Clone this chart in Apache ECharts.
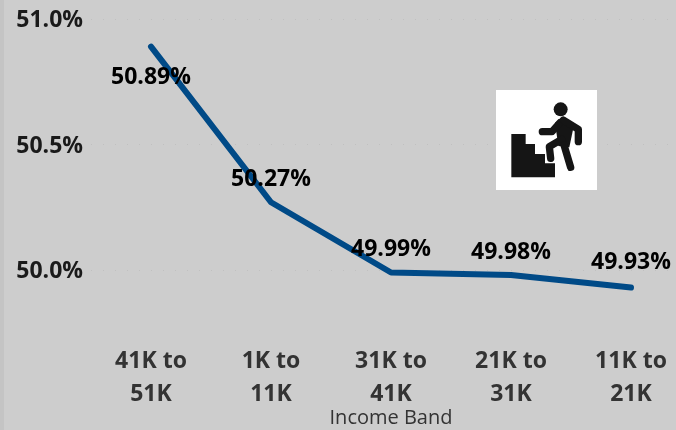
<!DOCTYPE html>
<html><head><meta charset="utf-8">
<style>html,body{margin:0;padding:0;background:#cdcdcd}#c{width:676px;height:430px}</style>
<script src="https://cdn.jsdelivr.net/npm/echarts@6/dist/echarts.min.js"></script>
</head><body><div id="c"></div>
<script>
const categories = ['41K to\n51K','1K to\n11K','31K to\n41K','21K to\n31K','11K to\n21K'];
const values = [50.89,50.27,49.99,49.98,49.93];
const yTicks = [50,50.5,51];
const labelPositions = ['bottom','top','top','top','top'];
const labelDistances = [19,11,11,11,13];
const axisName = 'Income Band';
const font = '"Open Sans","Noto Sans",sans-serif';
const chart = echarts.init(document.getElementById('c'),null,{renderer:'canvas'});
const line = pts => ({type:'polyline',z:12,shape:{points:pts},style:{stroke:'#151515',lineWidth:22,lineCap:'round',lineJoin:'round',fill:null}});
chart.setOption({
  animation:false,
  backgroundColor:'#cdcdcd',
  grid:{left:91,top:19,width:600,height:301.2,outerBoundsMode:'none'},
  xAxis:{type:'category',data:categories,boundaryGap:true,
    axisLine:{show:false},axisTick:{show:false},
    axisLabel:{interval:0,margin:25,color:'#333',fontFamily:font,fontWeight:'bold',fontSize:23,lineHeight:33},
    name:axisName,nameLocation:'middle',nameGap:88,nameMoveOverlap:false,nameTextStyle:{color:'#333',fontFamily:font,fontSize:20}},
  yAxis:{type:'value',min:49.8,max:51,
    axisLine:{show:false},axisTick:{show:false,customValues:yTicks},
    axisLabel:{customValues:yTicks,margin:8,color:'#1a1a1a',fontFamily:font,fontWeight:'bold',fontSize:23,verticalAlign:'top',lineHeight:3,
      formatter:v=>v.toFixed(1)+'%'},
    splitLine:{show:true,lineStyle:{color:'#c0c0c0',type:[1,11],width:1}}},
  series:[{type:'line',symbol:'circle',symbolSize:1,
    itemStyle:{color:'#004a87'},
    lineStyle:{color:'#004a87',width:6,cap:'round',join:'round'},
    label:{show:true,color:'#000',fontFamily:font,fontWeight:'bold',fontSize:23,
      formatter:p=>p.value.toFixed(2)+'%'},
    data:values.map((v,i)=>({value:v,label:{position:labelPositions[i],distance:labelDistances[i]}}))}],
  graphic:[
    {type:'rect',left:0,top:0,z:1,shape:{width:4,height:430},style:{fill:'#c4c4c4'}},
    {type:'rect',left:496,top:90,z:10,shape:{width:101,height:100},style:{fill:'#fff'}},
    {type:'group',x:480,y:70,scaleX:1/3,scaleY:1/3,z:12,children:[
      {type:'polygon',z:12,shape:{points:[[94,192],[137,192],[137,222],[165,222],[165,252],[195,252],[195,280],[225,280],[225,322],[94,322]]},style:{fill:'#151515'}},
      {type:'circle',z:12,shape:{cx:242,cy:118,r:21},style:{fill:'#151515'}},
      {type:'polygon',z:12,shape:{points:[[225,158],[250,140],[282,165],[268,232],[235,228]]},style:{fill:'#151515'}},
      line([[187,185],[216,185],[240,158]]),
      line([[250,150],[295,178],[295,215]]),
      line([[245,208],[208,230],[212,265]]),
      line([[252,225],[272,292]])
    ]}
  ]
});
</script></body></html>
